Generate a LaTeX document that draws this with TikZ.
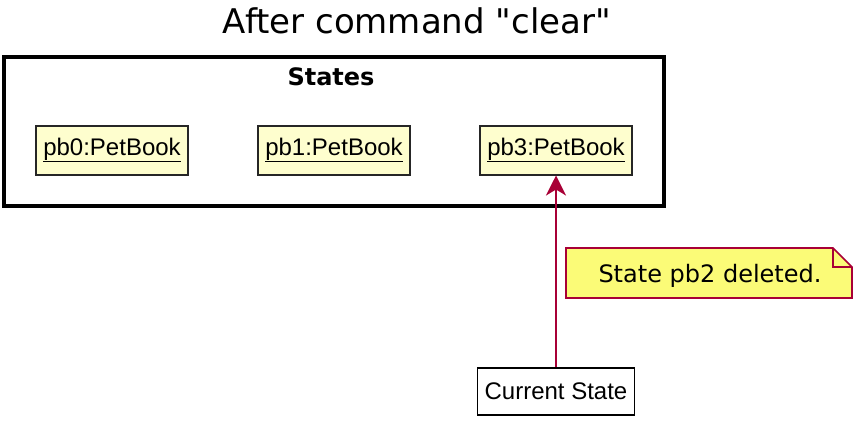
\documentclass[tikz,border=0pt]{standalone}
\usepackage{fontspec}
\setmainfont{DejaVu Sans}[Ligatures=TeXOff]
\newfontfamily\arialfont{Liberation Sans}
\usetikzlibrary{arrows.meta,shapes.misc}
\definecolor{umlred}{HTML}{A80036}
\definecolor{objfill}{HTML}{FEFECE}
\definecolor{notefill}{HTML}{FBFB77}
\tikzset{
  objbox/.style={draw=black!85, line width=2pt, fill=objfill, minimum width=152pt, minimum height=49pt, inner sep=0pt, font=\arialfont\fontsize{24}{28}\selectfont},
  plainbox/.style={draw=black, line width=1.6pt, fill=white, minimum width=157pt, minimum height=47pt, inner sep=0pt, font=\arialfont\fontsize{24}{28}\selectfont},
  umlarrow/.style={draw=umlred, line width=2pt, -{Stealth[length=20pt,width=20pt,inset=6pt]}},
}
\begin{document}
\begin{tikzpicture}[x=1pt,y=-1pt]
\useasboundingbox (0,0) rectangle (860,424);
% title
\node[anchor=base, inner sep=0pt, font=\fontsize{34}{38}\selectfont] (title) at (417,33) {After command "clear"};
% frame
\draw[line width=3.2pt] (4,57) rectangle (664,206);
\node[anchor=base, inner sep=0pt, font=\bfseries\fontsize{24}{28}\selectfont] (frametitle) at (331,85) {States};
% objects
\node[objbox] (pb0) at (112,150) {\underline{pb0:PetBook}};
\node[objbox] (pb1) at (334,150) {\underline{pb1:PetBook}};
\node[objbox] (pb3) at (556,150) {\underline{pb3:PetBook}};
% current state
\node[plainbox] (cur) at (556,391.5) {Current State};
% note
\filldraw[draw=umlred, fill=notefill, line width=1.6pt]
  (566,248) -- (833,248) -- (852,267) -- (852,298) -- (566,298) -- cycle;
\draw[draw=umlred, line width=1.6pt] (833,248) -- (833,267) -- (852,267);
\node[anchor=base, inner sep=0pt, font=\fontsize{24}{28}\selectfont] (note) at (710,282) {State pb2 deleted.};
% arrow
\draw[umlarrow] (cur.north) -- (pb3.south);
\end{tikzpicture}
\end{document}
